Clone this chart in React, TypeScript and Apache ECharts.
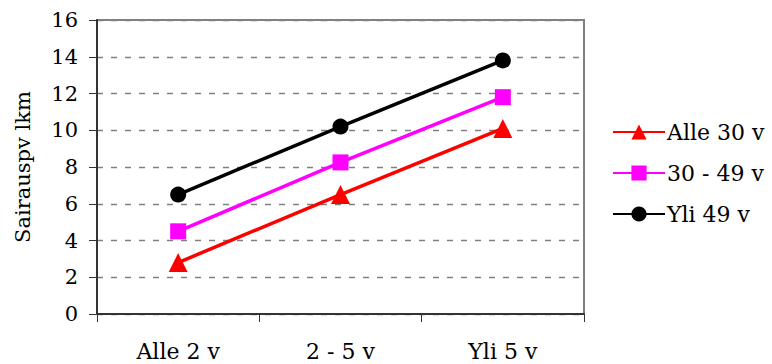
import React, { useEffect, useRef } from "react";
import * as echarts from "echarts";

const categories = ["Alle 2 v", "2 - 5 v", "Yli 5 v"];
const alle30 = [2.8, 6.5, 10.1];
const mid3049 = [4.5, 8.25, 11.8];
const yli49 = [6.5, 10.2, 13.8];
const seriesNames = ["Alle 30 v", "30 - 49 v", "Yli 49 v"];
const yAxisName = "Sairauspv lkm";

const FONT = "DejaVu Serif";
const FS = 21;

export default function App() {
  const ref = useRef<HTMLDivElement>(null);
  useEffect(() => {
    const chart = echarts.init(ref.current!, null, { renderer: "svg" });
    const mk = (name: string, data: number[], color: string, symbol: string, size: number) => ({
      name,
      type: "line",
      data,
      symbol,
      symbolSize: size,
      lineStyle: { color, width: 3.5 },
      itemStyle: { color },
      emphasis: { disabled: true },
    });
    const txt = { fontFamily: FONT, fontSize: FS, fontWeight: "normal", color: "#000" };
    chart.setOption({
      animation: false,
      textStyle: { fontFamily: FONT, color: "#000" },
      grid: {
        left: 97,
        top: 20,
        width: 487,
        height: 294,
        show: true,
        borderColor: "#808080",
        borderWidth: 2,
      },
      xAxis: {
        type: "category",
        data: categories,
        boundaryGap: true,
        axisLine: { lineStyle: { color: "#333", width: 2 } },
        axisTick: { show: true, length: 8, lineStyle: { color: "#333", width: 1 } },
        axisLabel: { ...txt, fontSize: 22, margin: 26 },
      },
      yAxis: {
        type: "value",
        min: 0,
        max: 16,
        interval: 2,
        name: yAxisName,
        nameLocation: "middle",
        nameGap: 64,
        nameTextStyle: { ...txt },
        axisLine: { show: true, lineStyle: { color: "#333", width: 2 } },
        axisTick: { show: true, length: 8, lineStyle: { color: "#333", width: 1 } },
        axisLabel: { ...txt, margin: 19 },
        splitLine: { show: true, lineStyle: { color: "#808080", type: [6, 8], width: 1.3 } },
      },
      legend: {
        orient: "vertical",
        left: 607,
        top: 116,
        itemWidth: 52,
        itemHeight: 19,
        itemGap: 19,
        textStyle: { ...txt, fontSize: 22, padding: [0, 0, 0, -3] },
        data: seriesNames,
      },
      series: [
        mk(seriesNames[0], alle30, "#ff0000", "triangle", 19),
        mk(seriesNames[1], mid3049, "#ff00ff", "rect", 16),
        mk(seriesNames[2], yli49, "#000000", "circle", 16),
      ],
    });
    return () => chart.dispose();
  }, []);
  return (
    <div
      ref={ref}
      style={{ position: "absolute", left: 0, top: 0, width: 772, height: 364 }}
    />
  );
}
